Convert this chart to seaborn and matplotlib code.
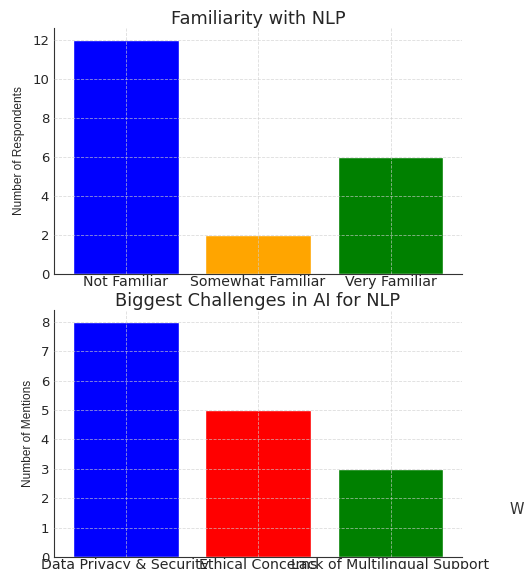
import matplotlib
matplotlib.use("Agg")
import matplotlib.pyplot as plt
import seaborn as sns
import pandas as pd

# data
familiarity = ["Not Familiar", "Somewhat Familiar", "Very Familiar"]
respondents = [12, 2, 6]
familiarity_colors = ["#0000FF", "#FFA500", "#008000"]

challenges = ["Data Privacy & Security", "Ethical Concerns", "Lack of Multilingual Support"]
mentions = [8, 5, 3]
challenge_colors = ["#0000FF", "#FF0000", "#008000"]

sns.set_style("whitegrid", {
    "grid.linestyle": "--",
    "grid.color": "#d9d9d9",
    "axes.edgecolor": "#333333",
    "text.color": "#262626",
    "xtick.color": "#262626",
    "ytick.color": "#262626",
})
plt.rcParams["font.family"] = ["DejaVu Sans"]

fig = plt.figure(figsize=(5.32, 5.69), dpi=100)
ax1 = fig.add_axes([0.1015, 0.5185, 0.767, 0.4323])
ax2 = fig.add_axes([0.1015, 0.0211, 0.767, 0.4341])


def draw(ax, cats, vals, colors, title, ylabel):
    df = pd.DataFrame({"cat": cats, "val": vals})
    sns.barplot(data=df, x="cat", y="val", hue="cat", palette=colors,
                width=0.8, saturation=1, legend=False, ax=ax)
    ax.set_xlim(-0.54, len(cats) - 0.46)
    ax.set_ylim(0, max(vals) * 1.05)
    ax.set_axisbelow(False)
    ax.grid(True, linestyle="--", linewidth=0.6, color="#cfcfcf", alpha=0.7)
    sns.despine(ax=ax)
    ax.set_title(title, fontsize=12.8, pad=3)
    ax.set_xlabel("")
    # the original y label is visibly condensed
    ax.set_ylabel(ylabel, family=["Liberation Sans Narrow", "Liberation Sans", "DejaVu Sans"],
                  fontsize=8.6, labelpad=5)
    ax.tick_params(axis="y", length=0, labelsize=9.5)
    ax.tick_params(axis="x", length=0, labelsize=10.2, pad=1)


draw(ax1, familiarity, respondents, familiarity_colors,
     "Familiarity with NLP", "Number of Respondents")
draw(ax2, challenges, mentions, challenge_colors,
     "Biggest Challenges in AI for NLP", "Number of Mentions")

# cut-off text at the right edge of the original
fig.text(0.958, 0.105, "W", fontsize=10.5, color="#333333", va="center")

fig.savefig("out.png", dpi=100)
